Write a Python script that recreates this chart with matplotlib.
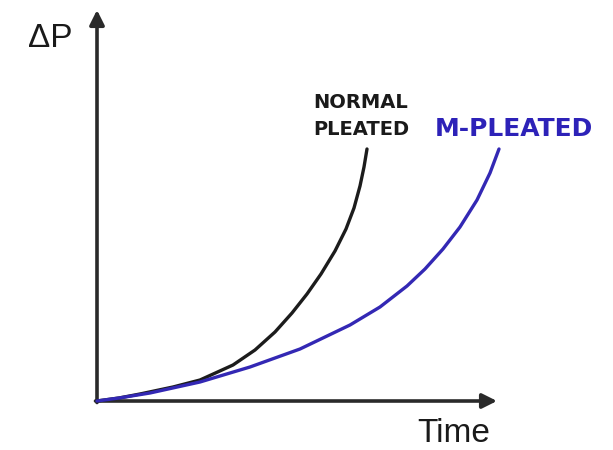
import matplotlib
matplotlib.use("Agg")
import matplotlib.pyplot as plt

# Data (x: time units, y: pressure drop units)
normal_x = [0, 22, 43, 76, 103, 136, 158, 178, 195, 210, 224, 238, 249, 257, 263, 267, 270]
normal_y = [0, 3, 7, 14, 21, 36, 51, 69, 88, 107, 127, 150, 172, 193, 215, 234, 252]
mpleated_x = [0, 22, 53, 103, 153, 203, 253, 283, 310, 328, 346, 363, 380, 393, 402]
mpleated_y = [0, 3, 8, 19, 34, 52, 76, 94, 115, 132, 152, 174, 201, 228, 252]

axis_x_end = 400
axis_y_end = 391

fig = plt.figure(figsize=(6.13, 4.5), dpi=100)
ax = fig.add_axes([0, 0, 1, 1])
ax.set_xlim(-97, 516)
ax.set_ylim(-49, 401)
ax.axis("off")

arrow_kw = dict(arrowstyle="-|>", lw=2.6, color="#2a2a2a", mutation_scale=22,
                shrinkA=0, shrinkB=0)
ax.annotate("", xy=(axis_x_end, 0), xytext=(-1.5, 0), arrowprops=arrow_kw)
ax.annotate("", xy=(0, axis_y_end), xytext=(0, -1.5), arrowprops=arrow_kw)

ax.plot(normal_x, normal_y, color="#1c1c1c", lw=2.4, solid_capstyle="round",
        solid_joinstyle="round", zorder=3)
ax.plot(mpleated_x, mpleated_y, color="#3328b4", lw=2.4, solid_capstyle="round",
        solid_joinstyle="round", zorder=3)

ax.text(-69, 354, "ΔP", fontsize=24, family="Liberation Sans", color="#1a1a1a",
        ha="left", va="baseline")
ax.text(320, -41, "Time", fontsize=24, family="Liberation Sans", color="#1a1a1a",
        ha="left", va="baseline")
ax.text(216, 293, "NORMAL", fontsize=14, fontweight="bold", family="DejaVu Sans",
        color="#1a1a1a", ha="left", va="baseline")
ax.text(216, 266, "PLEATED", fontsize=14, fontweight="bold", family="DejaVu Sans",
        color="#1a1a1a", ha="left", va="baseline")
ax.text(338, 265, "M-PLEATED", fontsize=18, fontweight="bold", family="DejaVu Sans",
        color="#2d22b8", ha="left", va="baseline")

fig.savefig("out.png", dpi=100)
